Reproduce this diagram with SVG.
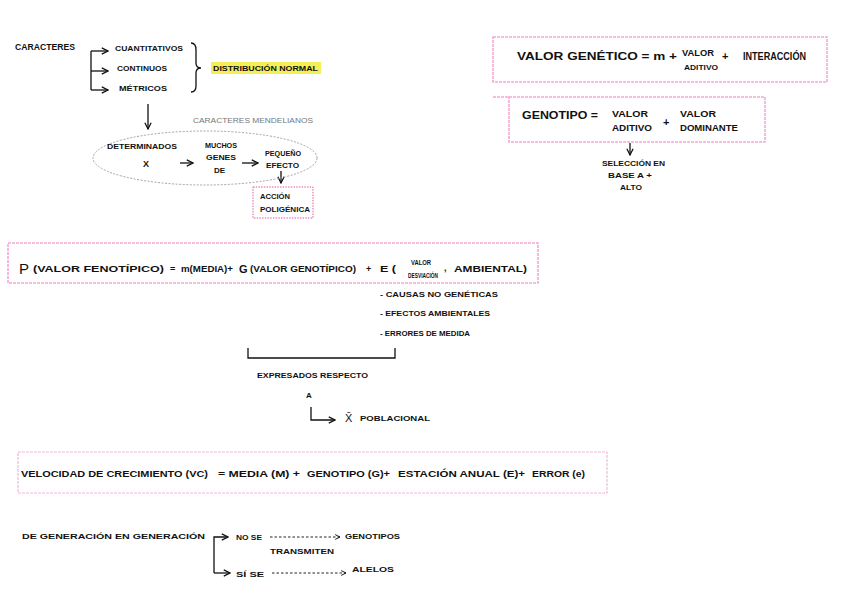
<svg xmlns="http://www.w3.org/2000/svg" width="848" height="599" viewBox="0 0 848 599">
<defs>
<style>
text{font-family:"Liberation Sans","DejaVu Sans",sans-serif;font-weight:700;fill:#111;font-size:9px}
.s{font-size:8px}
.m{font-size:11px}
.g{fill:#777;font-weight:400}
.ln{fill:none;stroke:#111;stroke-width:1.3}
.dash{fill:none;stroke:#222;stroke-width:1;stroke-dasharray:2.5 2}
.pink{fill:none;stroke:#f2a9d4;stroke-width:1.6;stroke-dasharray:3 1}
.mag{fill:none;stroke:#e0569f;stroke-width:1;stroke-dasharray:1.5 1.2}
</style>
<marker id="ah" viewBox="0 0 10 10" refX="9" refY="5" markerWidth="6" markerHeight="6" orient="auto-start-reverse">
<path d="M1,1 L9,5 L1,9" fill="none" stroke="#111" stroke-width="1.6"/>
</marker>
</defs>
<rect width="848" height="599" fill="#fff"/>

<g id="connectors">
<path class="ln" d="M91,51 V90"/>
<path class="ln" d="M91,51 H108" marker-end="url(#ah)"/>
<path class="ln" d="M91,71 H108" marker-end="url(#ah)"/>
<path class="ln" d="M91,90 H108" marker-end="url(#ah)"/>
<path class="ln" d="M191,43 Q196,43 196,50 V63 Q196,68 201,68 Q196,68 196,73 V86 Q196,92 191,92"/>
<path class="ln" d="M148,104 V129" marker-end="url(#ah)"/>
<path class="ln" d="M180,163 H193" marker-end="url(#ah)"/>
<path class="ln" d="M242,163 H258" marker-end="url(#ah)"/>
<path class="ln" d="M281,171 V183" marker-end="url(#ah)"/>
<path class="ln" d="M630,143 V155" marker-end="url(#ah)"/>
<path class="ln" d="M248,348 V358 H395 V348"/>
<path class="ln" d="M311,407 V420 H335" marker-end="url(#ah)"/>
<path class="ln" d="M214,573 V537 H228" marker-end="url(#ah)"/>
<path class="ln" d="M214,573 H230" marker-end="url(#ah)"/>
<path class="dash" d="M270,537 H340" marker-end="url(#ah)"/>
<path class="dash" d="M272,573 H346" marker-end="url(#ah)"/>
</g>

<g id="caracteres">
<text x="15" y="50" textLength="60" lengthAdjust="spacingAndGlyphs">CARACTERES</text>
</g>
<g id="cuantitativos">
<text x="115" y="51" class="s" textLength="68" lengthAdjust="spacingAndGlyphs">CUANTITATIVOS</text>
</g>
<g id="continuos">
<text x="117" y="71" class="s" textLength="50" lengthAdjust="spacingAndGlyphs">CONTINUOS</text>
</g>
<g id="metricos">
<text x="119" y="91" class="s" textLength="48" lengthAdjust="spacingAndGlyphs">MÉTRICOS</text>
</g>
<g id="distribucion">
<rect x="211" y="62" width="110" height="12" fill="#f5ee57"/>
<text x="213" y="71" class="s" textLength="105" lengthAdjust="spacingAndGlyphs">DISTRIBUCIÓN NORMAL</text>
</g>

<g id="mendelianos">
<text x="193" y="123" class="s g" textLength="120" lengthAdjust="spacingAndGlyphs">CARACTERES MENDELIANOS</text>
</g>
<g id="ellipse">
<ellipse cx="205" cy="158" rx="112" ry="27" fill="none" stroke="#999" stroke-width="0.9" stroke-dasharray="2 1.5"/>
<text x="107" y="149" class="s" textLength="70" lengthAdjust="spacingAndGlyphs">DETERMINADOS</text>
<text x="143" y="167">X</text>
<text x="205" y="148" class="s" textLength="32" lengthAdjust="spacingAndGlyphs">MUCHOS</text>
<text x="206" y="160" class="s" textLength="30" lengthAdjust="spacingAndGlyphs">GENES</text>
<text x="214" y="173" class="s">DE</text>
<text x="265" y="156" class="s" textLength="36" lengthAdjust="spacingAndGlyphs">PEQUEÑO</text>
<text x="266" y="168" class="s" textLength="33" lengthAdjust="spacingAndGlyphs">EFECTO</text>
</g>
<g id="accion">
<rect x="253" y="187" width="60" height="31" class="mag"/>
<text x="260" y="199" class="s" textLength="30" lengthAdjust="spacingAndGlyphs">ACCIÓN</text>
<text x="260" y="212" class="s" textLength="50" lengthAdjust="spacingAndGlyphs">POLIGÉNICA</text>
</g>

<g id="valor-genetico">
<rect x="493" y="37" width="334" height="45" class="pink"/>
<text x="517" y="60" class="m" textLength="160" lengthAdjust="spacingAndGlyphs">VALOR GENÉTICO = m +</text>
<text x="682" y="56" textLength="32" lengthAdjust="spacingAndGlyphs">VALOR</text>
<text x="684" y="70" class="s" textLength="34" lengthAdjust="spacingAndGlyphs">ADITIVO</text>
<text x="722" y="60" class="m">+</text>
<text x="743" y="60" class="m" textLength="63" lengthAdjust="spacingAndGlyphs">INTERACCIÓN</text>
</g>

<g id="genotipo">
<rect x="509" y="97" width="256" height="45" class="pink"/>
<path d="M493,97 H509" class="pink"/>
<text x="522" y="119" class="m" textLength="76" lengthAdjust="spacingAndGlyphs">GENOTIPO =</text>
<text x="612" y="117" textLength="36" lengthAdjust="spacingAndGlyphs">VALOR</text>
<text x="612" y="131" textLength="40" lengthAdjust="spacingAndGlyphs">ADITIVO</text>
<text x="663" y="126" class="m">+</text>
<text x="680" y="117" textLength="36" lengthAdjust="spacingAndGlyphs">VALOR</text>
<text x="680" y="131" textLength="58" lengthAdjust="spacingAndGlyphs">DOMINANTE</text>
</g>
<g id="seleccion">
<text x="602" y="166" class="s" textLength="63" lengthAdjust="spacingAndGlyphs">SELECCIÓN EN</text>
<text x="608" y="178" class="s" textLength="44" lengthAdjust="spacingAndGlyphs">BASE A +</text>
<text x="620" y="190" class="s" textLength="22" lengthAdjust="spacingAndGlyphs">ALTO</text>
</g>

<g id="fenotipo">
<rect x="8" y="243" width="530" height="40" class="pink"/>
<text x="19" y="274" style="font-size:15px;font-weight:400">P</text>
<text x="33" y="272" textLength="131" lengthAdjust="spacingAndGlyphs">(VALOR FENOTÍPICO)</text>
<text x="170" y="272">=</text>
<text x="181" y="272" textLength="52" lengthAdjust="spacingAndGlyphs">m(MEDIA)+</text>
<text x="239" y="273" class="m">G</text>
<text x="250" y="272" textLength="106" lengthAdjust="spacingAndGlyphs">(VALOR GENOTÍPICO)</text>
<text x="366" y="272">+</text>
<text x="380" y="272" textLength="16" lengthAdjust="spacingAndGlyphs">E (</text>
<text x="411" y="265" style="font-size:7px" textLength="20" lengthAdjust="spacingAndGlyphs">VALOR</text>
<text x="408" y="278" style="font-size:7px" textLength="30" lengthAdjust="spacingAndGlyphs">DESVIACIÓN</text>
<text x="444" y="271">,</text>
<text x="454" y="272" textLength="73" lengthAdjust="spacingAndGlyphs">AMBIENTAL)</text>
</g>
<g id="causas">
<text x="380" y="297" class="s" textLength="118" lengthAdjust="spacingAndGlyphs">- CAUSAS NO GENÉTICAS</text>
<text x="380" y="316" class="s" textLength="110" lengthAdjust="spacingAndGlyphs">- EFECTOS AMBIENTALES</text>
<text x="380" y="336" class="s" textLength="90" lengthAdjust="spacingAndGlyphs">- ERRORES DE MEDIDA</text>
</g>
<g id="expresados">
<text x="257" y="378" class="s" textLength="111" lengthAdjust="spacingAndGlyphs">EXPRESADOS RESPECTO</text>
<text x="306" y="398" class="s">A</text>
</g>
<g id="poblacional">
<text x="345" y="422" class="m" style="font-weight:400">X̄</text>
<text x="360" y="421" class="s" textLength="70" lengthAdjust="spacingAndGlyphs">POBLACIONAL</text>
</g>

<g id="velocidad">
<rect x="18" y="452" width="589" height="41" class="pink" style="stroke:#f4b8dc;stroke-width:1.2"/>
<text x="21" y="477" textLength="187" lengthAdjust="spacingAndGlyphs">VELOCIDAD DE CRECIMIENTO (VC)</text>
<text x="218" y="477" textLength="82" lengthAdjust="spacingAndGlyphs">= MEDIA (M) +</text>
<text x="307" y="477" textLength="83" lengthAdjust="spacingAndGlyphs">GENOTIPO (G)+</text>
<text x="398" y="477" textLength="127" lengthAdjust="spacingAndGlyphs">ESTACIÓN ANUAL (E)+</text>
<text x="532" y="477" textLength="53" lengthAdjust="spacingAndGlyphs">ERROR (e)</text>
</g>

<g id="generacion">
<text x="22" y="539" class="s" textLength="183" lengthAdjust="spacingAndGlyphs">DE GENERACIÓN EN GENERACIÓN</text>
</g>
<g id="no-se">
<text x="236" y="540" class="s" textLength="26" lengthAdjust="spacingAndGlyphs">NO SE</text>
<text x="270" y="554" class="s" textLength="64" lengthAdjust="spacingAndGlyphs">TRANSMITEN</text>
</g>
<g id="genotipos">
<text x="345" y="539" class="s" textLength="55" lengthAdjust="spacingAndGlyphs">GENOTIPOS</text>
</g>
<g id="si-se">
<text x="236" y="577" class="s" textLength="28" lengthAdjust="spacingAndGlyphs">SÍ SE</text>
</g>
<g id="alelos">
<text x="352" y="572" class="s" textLength="42" lengthAdjust="spacingAndGlyphs">ALELOS</text>
</g>
</svg>
